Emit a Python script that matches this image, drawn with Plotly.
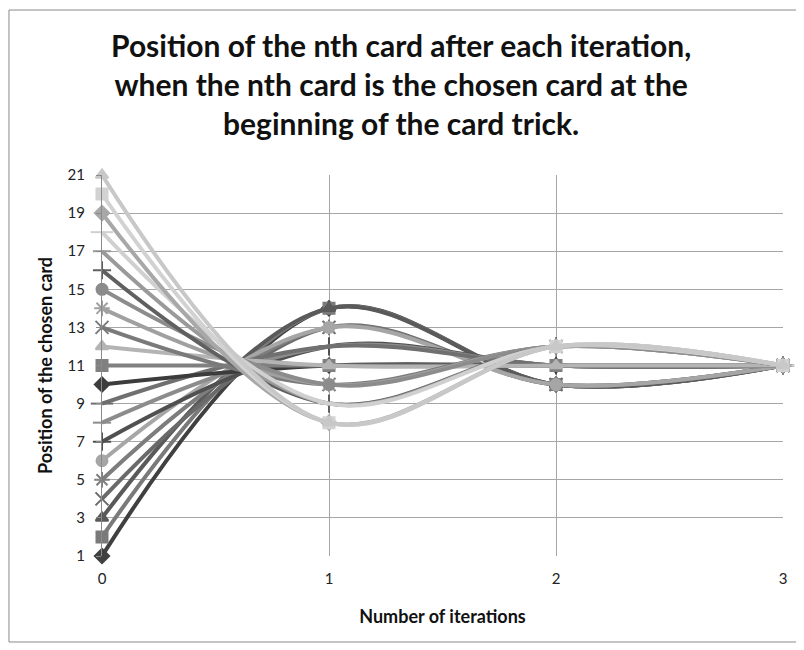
import plotly.graph_objects as go

iterations = [0, 1, 2, 3]

card_1 = [1, 14, 10, 11]
card_2 = [2, 14, 10, 11]
card_3 = [3, 14, 10, 11]
card_4 = [4, 13, 10, 11]
card_5 = [5, 13, 10, 11]
card_6 = [6, 13, 10, 11]
card_7 = [7, 12, 11, 11]
card_8 = [8, 12, 11, 11]
card_9 = [9, 12, 11, 11]
card_10 = [10, 11, 11, 11]
card_11 = [11, 11, 11, 11]
card_12 = [12, 11, 11, 11]
card_13 = [13, 10, 12, 11]
card_14 = [14, 10, 12, 11]
card_15 = [15, 10, 12, 11]
card_16 = [16, 9, 12, 11]
card_17 = [17, 9, 12, 11]
card_18 = [18, 9, 12, 11]
card_19 = [19, 8, 12, 11]
card_20 = [20, 8, 12, 11]
card_21 = [21, 8, 12, 11]

series = [card_1, card_2, card_3, card_4, card_5, card_6, card_7, card_8, card_9,
          card_10, card_11, card_12, card_13, card_14, card_15, card_16, card_17,
          card_18, card_19, card_20, card_21]
names = [f"Card {i}" for i in range(1, 22)]

y_ticks = [1, 3, 5, 7, 9, 11, 13, 15, 17, 19, 21]

colors = ["#404040", "#7a7a7a", "#5a5a5a", "#6a6a6a", "#7d7d7d", "#a6a6a6",
          "#505050", "#8c8c8c", "#707070", "#3c3c3c", "#808080", "#b4b4b4",
          "#7a7a7a", "#a0a0a0", "#8c8c8c", "#606060", "#9a9a9a", "#d0d0d0",
          "#a8a8a8", "#d2d2d2", "#c8c8c8"]
symbols = ["diamond", "square", "triangle-up", "x-thin-open", "asterisk-open",
           "circle", "cross-thin-open", "line-ew-open", "line-ew-open"]

fig = go.Figure()
for i, (vals, name) in enumerate(zip(series, names)):
    sym = symbols[i % 9]
    col = colors[i]
    size = 11
    if sym in ("x-thin-open", "asterisk-open", "cross-thin-open", "line-ew-open"):
        size = 13
    if sym == "line-ew-open" and i % 9 == 8:
        size = 16
    fig.add_trace(go.Scatter(
        x=iterations, y=vals, name=name, mode="lines+markers",
        line=dict(color=col, width=4, shape="spline", smoothing=1.0),
        marker=dict(symbol=sym, size=size, color=col,
                    line=dict(color=col, width=2)),
        cliponaxis=False,
    ))

fig.update_layout(
    width=804, height=650,
    margin=dict(l=94, r=29, t=167, b=102),
    paper_bgcolor="white", plot_bgcolor="white",
    showlegend=False,
    title=dict(
        text="Position of the nth card after each iteration,<br>when the nth card is the chosen card at the<br>beginning of the card trick.",
        x=0.489, xanchor="center", y=0.925, yanchor="top",
        font=dict(family="Lato", size=30, color="#111111", weight="bold"),
    ),
    font=dict(family="Lato", size=15, color="#333333"),
)
fig.update_xaxes(
    range=[0, 3], tickvals=iterations, ticktext=[str(v) for v in iterations],
    showgrid=True, gridcolor="#a6a6a6", gridwidth=1,
    showline=False, zeroline=False, ticks="", ticklabelstandoff=12,
    tickfont=dict(size=15, color="#222222"),
    automargin=False,
    title=dict(text="Number of iterations", font=dict(size=18, color="#111111", weight="bold"), standoff=24),
)
fig.update_yaxes(
    range=[1, 21], tickvals=y_ticks,
    showgrid=True, gridcolor="#a6a6a6", gridwidth=1,
    showline=True, linecolor="#8a8a8a", linewidth=1,
    zeroline=False, ticks="outside", ticklen=5, tickcolor="#8a8a8a",
    ticklabelstandoff=8,
    tickfont=dict(size=15, color="#222222"),
    automargin=False,
    title=dict(text="Position of the chosen card", font=dict(size=18, color="#111111", weight="bold"), standoff=10),
)
bx0, bx1, by0, by1 = -0.1366, 1.0206, -0.2257, 1.433
for (xa, ya, xb, yb) in [(bx0, by0, bx0, by1), (bx1, by0, bx1, by1),
                         (bx0, by0, bx1, by0), (bx0, by1, bx1, by1)]:
    fig.add_shape(type="line", xref="paper", yref="paper",
                  x0=xa, y0=ya, x1=xb, y1=yb,
                  line=dict(color="#8a8a8a", width=1), layer="above")
fig.write_html("out.html")
